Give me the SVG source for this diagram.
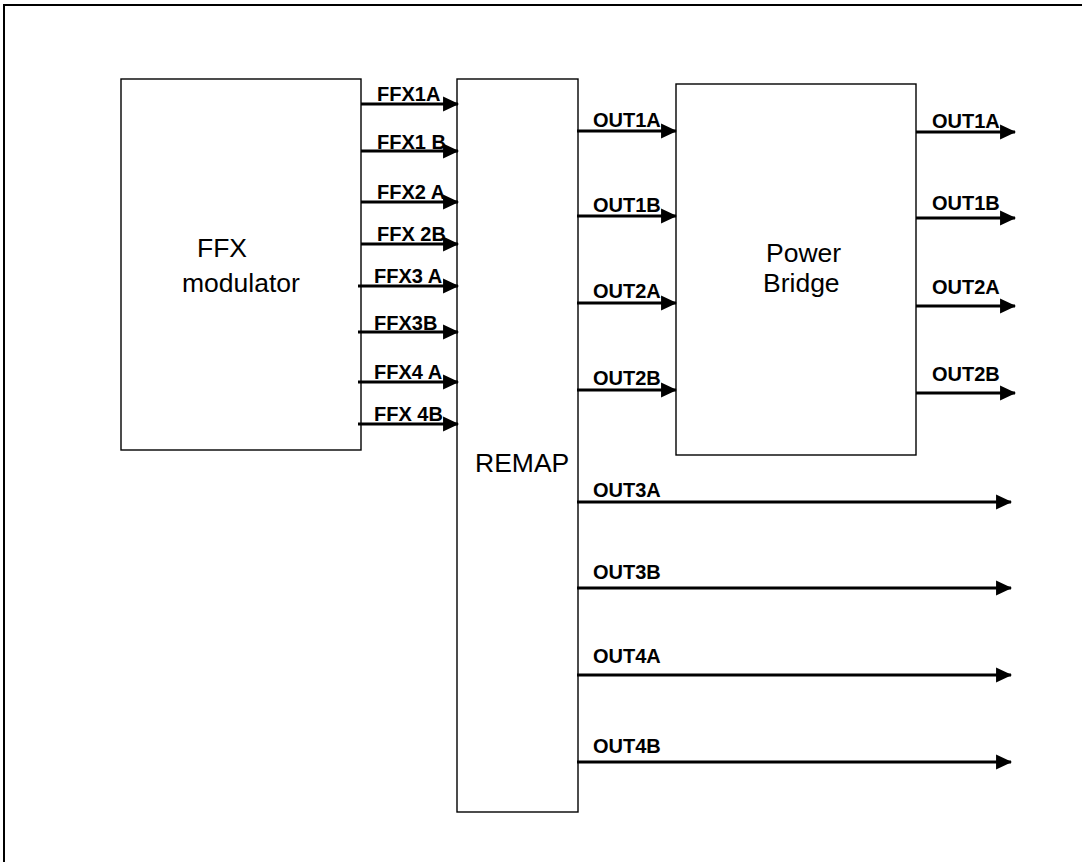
<svg xmlns="http://www.w3.org/2000/svg" width="1082" height="862" viewBox="0 0 1082 862">
<style>
.box{fill:#fff;stroke:#000;stroke-width:1.4}
.big{font-family:"Liberation Sans",Arial,sans-serif;font-size:26.5px;fill:#000}
.lbl{font-family:"Liberation Sans",Arial,sans-serif;font-size:20px;font-weight:bold;fill:#000}
.wire{stroke:#000;stroke-width:3;fill:none;marker-end:url(#ah)}
.frame{stroke:#000;stroke-width:2;fill:none}
</style>
<defs>
<marker id="ah" markerUnits="userSpaceOnUse" markerWidth="16" markerHeight="16" viewBox="0 0 15 14" refX="14" refY="7" orient="auto">
<path d="M0,0 L15,7 L0,14 Z" fill="#000"/>
</marker>
</defs>
<rect width="1082" height="862" fill="#fff"/>
<path class="frame" d="M4,862 V5 H1082"/>
<g id="ffx-modulator">
<rect class="box" x="121" y="79" width="240" height="371"/>
<text class="big" x="197" y="257">FFX</text>
<text class="big" x="182" y="292">modulator</text>
</g>
<g id="remap">
<rect class="box" x="457" y="79" width="121" height="733"/>
<text class="big" x="475" y="472">REMAP</text>
</g>
<g id="power-bridge">
<rect class="box" x="676" y="84" width="240" height="371"/>
<text class="big" x="766" y="262">Power</text>
<text class="big" x="763" y="292">Bridge</text>
</g>
<g id="connectors">
<line class="wire" x1="361" y1="104" x2="458" y2="104"/>
<line class="wire" x1="361" y1="151" x2="458" y2="151"/>
<line class="wire" x1="361" y1="202" x2="458" y2="202"/>
<line class="wire" x1="361" y1="244" x2="458" y2="244"/>
<line class="wire" x1="358" y1="286" x2="458" y2="286"/>
<line class="wire" x1="358" y1="332" x2="458" y2="332"/>
<line class="wire" x1="358" y1="382" x2="458" y2="382"/>
<line class="wire" x1="358" y1="424" x2="458" y2="424"/>
<line class="wire" x1="577" y1="131" x2="676" y2="131"/>
<line class="wire" x1="577" y1="216" x2="676" y2="216"/>
<line class="wire" x1="577" y1="303" x2="676" y2="303"/>
<line class="wire" x1="577" y1="390" x2="676" y2="390"/>
<line class="wire" x1="916" y1="132" x2="1015" y2="132"/>
<line class="wire" x1="916" y1="218" x2="1015" y2="218"/>
<line class="wire" x1="916" y1="306" x2="1015" y2="306"/>
<line class="wire" x1="916" y1="393" x2="1015" y2="393"/>
<line class="wire" x1="577" y1="502" x2="1011" y2="502"/>
<line class="wire" x1="577" y1="588" x2="1011" y2="588"/>
<line class="wire" x1="577" y1="675" x2="1011" y2="675"/>
<line class="wire" x1="577" y1="762" x2="1011" y2="762"/>
<text class="lbl" x="377" y="101">FFX1A</text>
<text class="lbl" x="377" y="149">FFX1 B</text>
<text class="lbl" x="377" y="199">FFX2 A</text>
<text class="lbl" x="377" y="241">FFX 2B</text>
<text class="lbl" x="374" y="283">FFX3 A</text>
<text class="lbl" x="374" y="330">FFX3B</text>
<text class="lbl" x="374" y="379">FFX4 A</text>
<text class="lbl" x="374" y="421">FFX 4B</text>
<text class="lbl" x="593" y="127">OUT1A</text>
<text class="lbl" x="593" y="212">OUT1B</text>
<text class="lbl" x="593" y="298">OUT2A</text>
<text class="lbl" x="593" y="385">OUT2B</text>
<text class="lbl" x="932" y="128">OUT1A</text>
<text class="lbl" x="932" y="210">OUT1B</text>
<text class="lbl" x="932" y="294">OUT2A</text>
<text class="lbl" x="932" y="381">OUT2B</text>
<text class="lbl" x="593" y="497">OUT3A</text>
<text class="lbl" x="593" y="579">OUT3B</text>
<text class="lbl" x="593" y="663">OUT4A</text>
<text class="lbl" x="593" y="753">OUT4B</text>
</g>
</svg>
